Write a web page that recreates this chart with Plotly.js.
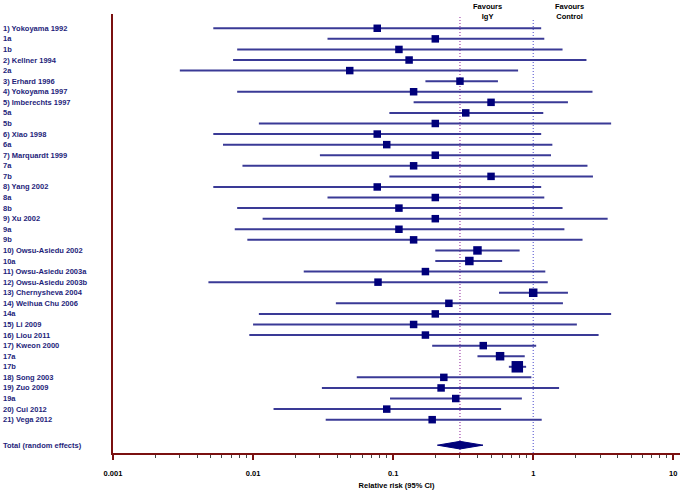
<!DOCTYPE html>
<html>
<head>
<meta charset="utf-8">
<script src="https://cdn.plot.ly/plotly-3.0.1.min.js"></script>
<style>html,body{margin:0;padding:0;background:#fff;}#chart{width:684px;height:494px;}</style>
</head>
<body>
<div id="chart"></div>
<script>
// ---- data ----
const studyLabels = [
  "1) Yokoyama 1992","1a","1b","2) Kellner 1994","2a","3) Erhard 1996","4) Yokoyama 1997",
  "5) Imberechts 1997","5a","5b","6) Xiao 1998","6a","7) Marquardt 1999","7a","7b",
  "8) Yang 2002","8a","8b","9) Xu 2002","9a","9b","10) Owsu-Asiedu 2002","10a",
  "11) Owsu-Asiedu 2003a","12) Owsu-Asiedu 2003b","13) Chernysheva 2004","14) Weihua Chu 2006","14a",
  "15) Li 2009","16) Liou 2011","17) Kweon 2000","17a","17b","18) Song 2003","19) Zuo 2009","19a",
  "20) Cui 2012","21) Vega 2012"
];
const rrEstimate = [0.077,0.2,0.11,0.13,0.049,0.3,0.14,0.5,0.33,0.2,0.077,0.09,0.2,0.14,0.5,
  0.077,0.2,0.11,0.2,0.11,0.14,0.4,0.35,0.17,0.078,1.0,0.25,0.2,0.14,0.17,0.44,0.58,0.77,
  0.23,0.22,0.28,0.09,0.19];
const rrLower = [0.0052,0.034,0.0077,0.0072,0.003,0.17,0.0077,0.14,0.094,0.011,0.0052,0.0061,0.03,0.0084,0.094,
  0.0052,0.034,0.0077,0.0117,0.0074,0.0091,0.2,0.2,0.023,0.0048,0.57,0.039,0.011,0.01,0.0094,0.19,0.4,0.67,
  0.055,0.031,0.095,0.014,0.033];
const rrUpper = [1.14,1.2,1.62,2.4,0.78,0.56,2.65,1.77,1.18,3.6,1.14,1.37,1.34,2.44,2.67,
  1.14,1.2,1.62,3.4,1.67,2.25,0.8,0.6,1.22,1.27,1.77,1.63,3.6,2.05,2.93,1.05,0.87,0.89,
  0.97,1.53,0.83,0.59,1.15];
const totalLabel = "Total (random effects)";
const totalEstimate = 0.3;
const totalLower = 0.207;
const totalUpper = 0.438;
const tickValues = [0.001,0.01,0.1,1,10];
const tickLabels = ["0.001","0.01","0.1","1","10"];
const headerLeft = "Favours<br>IgY";
const headerRight = "Favours<br>Control";
const axisTitle = "Relative risk (95% CI)";

// ---- styles / layout ----
const W = 684, H = 494;
const M = {l:113, r:4, t:14, b:40.5};
const plotW = W - M.l - M.r, plotH = H - M.t - M.b;
const navy = "#00007a";
const ciColor = "#3a3a96";
const axisRed = "#7a1010";
const textNavy = "#1e1e7a";
const FONT = "Liberation Sans, Arial, sans-serif";
const sizeOverride = {"17b":11.5, "17a":8.5, "13) Chernysheva 2004":8.5, "10) Owsu-Asiedu 2002":8.5, "10a":8.5};

const rows = studyLabels.map((_, i) => i + 1);
const totalRow = 40.41;

const minorVals = [];
for (let d = -3; d <= 0; d++) for (let k = 2; k <= 9; k++) minorVals.push(k * Math.pow(10, d));

// CI segments (one trace, gaps between rows)
const ciX = [], ciY = [];
rows.forEach((r, i) => { ciX.push(rrLower[i], rrUpper[i], null); ciY.push(r, r, null); });
const ciLines = {
  type: "scatter", mode: "lines", x: ciX, y: ciY,
  line: {color: ciColor, width: 2}, showlegend: false, hoverinfo: "skip", connectgaps: false
};
const studies = {
  type: "scatter", mode: "markers",
  x: rrEstimate, y: rows,
  marker: {symbol: "square", color: navy, size: studyLabels.map(l => sizeOverride[l] || 7.5), line: {width: 0}, opacity: 1},
  showlegend: false
};
const hh = 0.36;
const diamond = {
  type: "scatter", mode: "lines",
  x: [totalLower, totalEstimate, totalUpper, totalEstimate, totalLower],
  y: [totalRow, totalRow - hh, totalRow, totalRow + hh, totalRow],
  fill: "toself", fillcolor: navy, line: {color: navy, width: 1},
  showlegend: false, hoverinfo: "skip"
};

const labelFont = {family: FONT, size: 7.5, color: textNavy, weight: "bold"};
const annotations = studyLabels.map((t, i) => ({
  text: t, xref: "paper", yref: "y", x: (1 - M.l) / plotW, y: rows[i],
  xanchor: "left", yanchor: "middle", showarrow: false, font: labelFont
}));
annotations.push({text: totalLabel, xref: "paper", yref: "y", x: (1 - M.l) / plotW, y: totalRow,
  xanchor: "left", yanchor: "middle", showarrow: false, font: labelFont});
const headFont = {family: FONT, size: 7.5, color: "#000", weight: "bold"};
annotations.push({text: headerLeft, xref: "paper", yref: "paper", x: (487 - M.l) / plotW, y: 1 + (14 - 11) / plotH,
  xanchor: "center", yanchor: "middle", showarrow: false, font: headFont});
annotations.push({text: headerRight, xref: "paper", yref: "paper", x: (569 - M.l) / plotW, y: 1 + (14 - 11) / plotH,
  xanchor: "center", yanchor: "middle", showarrow: false, font: headFont});

const layout = {
  width: W, height: H, margin: M,
  paper_bgcolor: "#fff", plot_bgcolor: "#fff",
  font: {family: FONT, size: 7.5, color: "#000"},
  xaxis: {
    type: "log", range: [-3, 1.048], autorange: false,
    tickmode: "array", tickvals: tickValues, ticktext: tickLabels,
    ticks: "outside", ticklen: 5, tickwidth: 2, tickcolor: axisRed,
    ticklabelstandoff: 7,
    tickfont: {family: FONT, size: 7.5, color: "#000", weight: "bold"},
    minor: {tickmode: "array", tickvals: minorVals, ticks: "outside", ticklen: 3, tickwidth: 1, tickcolor: "#444", showgrid: false},
    showline: true, linecolor: axisRed, linewidth: 2,
    showgrid: false, zeroline: false,
    title: {text: axisTitle, standoff: 6, font: {family: FONT, size: 7.5, color: "#000", weight: "bold"}}
  },
  yaxis: {
    range: [41.15, -0.35], autorange: false,
    showline: true, linecolor: axisRed, linewidth: 2,
    showticklabels: false, ticks: "", showgrid: false, zeroline: false
  },
  shapes: [
    {type: "line", xref: "x", yref: "paper", x0: totalEstimate, x1: totalEstimate, y0: 0, y1: 0.993,
      line: {color: "#8a1a9a", width: 1, dash: "1px,2px"}, layer: "below"},
    {type: "line", xref: "x", yref: "paper", x0: 1, x1: 1, y0: 0, y1: 0.987,
      line: {color: "#4a4acc", width: 1, dash: "1px,2px"}, layer: "below"}
  ],
  annotations: annotations,
  showlegend: false
};

Plotly.newPlot("chart", [ciLines, studies, diamond], layout, {displayModeBar: false, staticPlot: true});
</script>
</body>
</html>
